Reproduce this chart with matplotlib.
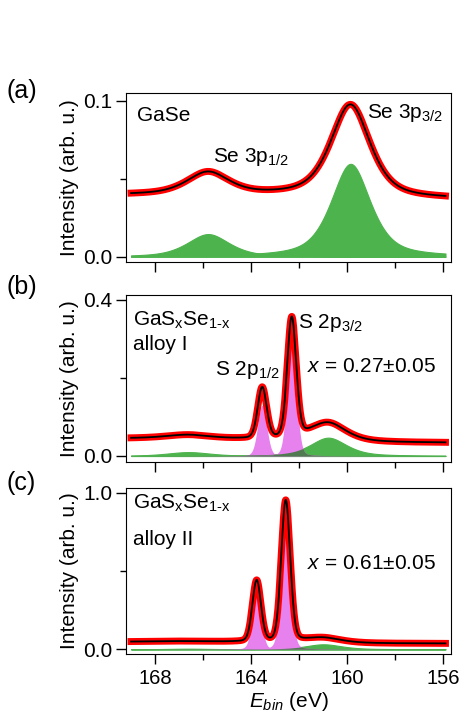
import numpy as np
import matplotlib
matplotlib.use("Agg")
import matplotlib.pyplot as plt
from matplotlib.ticker import MultipleLocator, FixedLocator, FormatStrFormatter

plt.rcParams['font.family'] = ['Liberation Sans', 'DejaVu Sans']
plt.rcParams['mathtext.fontset'] = 'custom'
plt.rcParams['mathtext.rm'] = 'Liberation Sans'
plt.rcParams['mathtext.it'] = 'Liberation Sans:italic'

# measured energy window (eV)
e_lo, e_hi = 155.9, 169.0

# fitted components: position (eV), height (arb. u.), fwhm (eV)
# background given as [high-E side, low-E side]
a_se_pos = [165.78, 159.85]
a_se_height = [0.0145, 0.0595]
a_se_fwhm = [2.1, 1.95]
a_bg = [0.0395, 0.0368]

b_se_pos = [166.6, 160.78]
b_se_height = [0.010, 0.047]
b_se_fwhm = [2.2, 1.8]
b_s_pos = [163.53, 162.30]
b_s_height = [0.13, 0.305]
b_s_fwhm = [0.44, 0.44]
b_bg = [0.045, 0.034]

c_se_pos = [166.6, 160.98]
c_se_height = [0.004, 0.032]
c_se_fwhm = [2.2, 1.8]
c_s_pos = [163.76, 162.55]
c_s_height = [0.39, 0.90]
c_s_fwhm = [0.42, 0.44]
c_bg = [0.0486, 0.037]

green = '#4db34d'
pink = '#e681ee'
dark = '#507a50'


def voigt(x, pos, h, fwhm, eta):
    # pseudo-voigt line shape
    g = np.exp(-4 * np.log(2) * (x - pos) ** 2 / fwhm ** 2)
    l = 1 / (1 + 4 * (x - pos) ** 2 / fwhm ** 2)
    return h * (eta * l + (1 - eta) * g)


def panel(ax, x, se, s, bg):
    se_sum = np.sum(se, axis=0)
    # shirley-like step following the Se 3p intensity
    step = np.cumsum(se_sum) / se_sum.sum()
    back = bg[1] + (bg[0] - bg[1]) * step
    env = back + se_sum + (np.sum(s, axis=0) if s else 0)
    for comp in se:
        ax.fill_between(x, 0, comp, color=green, lw=0.8)
    for comp in s:
        ax.fill_between(x, 0, comp, color=pink, lw=0)
        ax.fill_between(x, 0, np.minimum(comp, se_sum), color=dark, lw=0)
    ax.plot(x, env, color='red', lw=5)
    ax.plot(x, env, color='black', lw=1.3)


x = np.arange(e_lo, e_hi, 0.01)

fig = plt.figure(figsize=(4.59, 7.19), dpi=100)
W, H = 459, 719
left, right = 126 / W, 451 / W
boxes = [(93, 262), (295, 462), (488, 654)]
axs = [fig.add_axes([left, 1 - b / H, right - left, (b - t) / H]) for t, b in boxes]

a_se = [voigt(x, p, h, w, 0.6) for p, h, w in zip(a_se_pos, a_se_height, a_se_fwhm)]
panel(axs[0], x, a_se, [], a_bg)

b_se = [voigt(x, p, h, w, 0.6) for p, h, w in zip(b_se_pos, b_se_height, b_se_fwhm)]
b_s = [voigt(x, p, h, w, 0.15) for p, h, w in zip(b_s_pos, b_s_height, b_s_fwhm)]
panel(axs[1], x, b_se, b_s, b_bg)

c_se = [voigt(x, p, h, w, 0.6) for p, h, w in zip(c_se_pos, c_se_height, c_se_fwhm)]
c_s = [voigt(x, p, h, w, 0.15) for p, h, w in zip(c_s_pos, c_s_height, c_s_fwhm)]
panel(axs[2], x, c_se, c_s, c_bg)

ylims = [(-0.0034, 0.1049), (-0.0154, 0.4128), (-0.03, 1.03)]
ymaj = [[0, 0.1], [0, 0.4], [0, 1.0]]
ymin = [[0.05], [0.2], [0.5]]
for i, ax in enumerate(axs):
    ax.set_xlim(169.2, 155.67)
    ax.set_ylim(*ylims[i])
    ax.xaxis.set_major_locator(MultipleLocator(4))
    ax.xaxis.set_minor_locator(MultipleLocator(2))
    ax.yaxis.set_major_locator(FixedLocator(ymaj[i]))
    ax.yaxis.set_minor_locator(FixedLocator(ymin[i]))
    ax.yaxis.set_major_formatter(FormatStrFormatter('%.1f'))
    ax.tick_params(which='major', direction='out', length=7, width=1, labelsize=15, pad=3)
    ax.tick_params(which='major', axis='x', labelsize=14.5, pad=4)
    ax.tick_params(which='minor', direction='out', length=4, width=1)
    ax.set_ylabel('Intensity (arb. u.)', fontsize=15, labelpad=3)
    if i < 2:
        ax.tick_params(labelbottom=False)

axs[2].set_xlabel(r'$E_{bin}$ (eV)', fontsize=15, labelpad=1)

txt = dict(fontsize=15, va='center', ha='left')
axs[0].text(168.75, 0.0908, 'GaSe', **txt)
axs[0].text(165.57, 0.0641, r'Se 3p$_\mathregular{1/2}$', **txt)
axs[0].text(159.15, 0.0919, r'Se 3p$_\mathregular{3/2}$', **txt)

axs[1].text(168.9, 0.349, r'GaS$_\mathregular{x}$Se$_\mathregular{1\text{-}x}$', **txt)
axs[1].text(168.9, 0.285, 'alloy I', **txt)
axs[1].text(165.5, 0.22, r'S 2p$_\mathregular{1/2}$', **txt)
axs[1].text(162.03, 0.340, r'S 2p$_\mathregular{3/2}$', **txt)
axs[1].text(161.68, 0.229, r'$x$ = 0.27±0.05', **txt)

axs[2].text(168.9, 0.932, r'GaS$_\mathregular{x}$Se$_\mathregular{1\text{-}x}$', **txt)
axs[2].text(168.9, 0.698, 'alloy II', **txt)
axs[2].text(161.68, 0.545, r'$x$ = 0.61±0.05', **txt)

for lab, yc in zip(['(a)', '(b)', '(c)'], [91, 287, 483]):
    fig.text(6 / W, 1 - yc / H, lab, fontsize=18, va='center', ha='left')

fig.savefig('out.png', dpi=100)
